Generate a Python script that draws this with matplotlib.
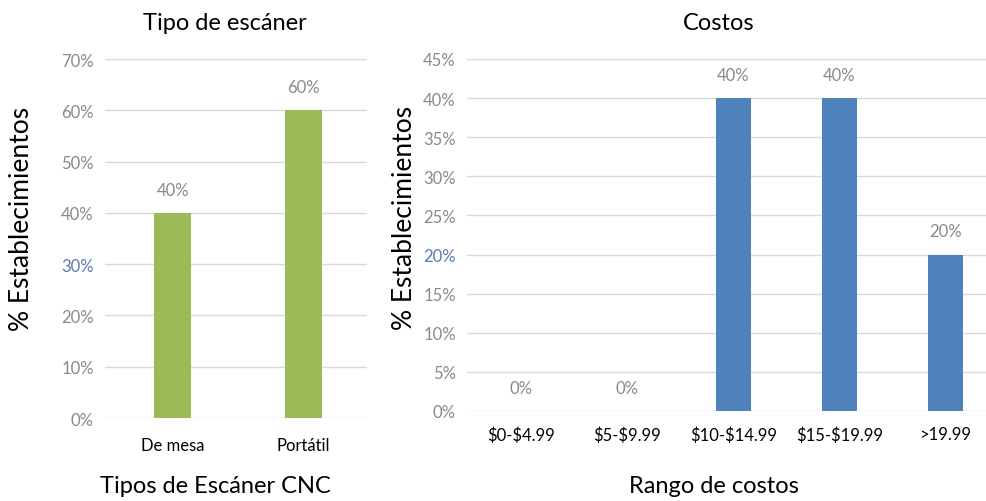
import matplotlib
matplotlib.use("Agg")
import matplotlib.pyplot as plt
from matplotlib.ticker import PercentFormatter

plt.rcParams['font.family'] = ['Lato', 'DejaVu Sans']

# data
scanner_types = ["De mesa", "Portátil"]
scanner_pct = [40, 60]

cost_ranges = [r"\$0-\$4.99", r"\$5-\$9.99", r"\$10-\$14.99", r"\$15-\$19.99", ">19.99"]
cost_pct = [0, 0, 40, 40, 20]

GREEN = "#9BBB59"
BLUE = "#4F81BD"
GRAY = "#898989"
GRID = "#d9d9d9"
ODD_TICK = "#5a7bb0"

W, H = 986, 502


def style_axes(ax, ymax, step, odd_tick, xpad):
    ax.set_ylim(0, ymax)
    ax.set_yticks(range(0, ymax + 1, step))
    ax.yaxis.set_major_formatter(PercentFormatter(decimals=0))
    ax.grid(axis="y", color=GRID, linewidth=1)
    ax.set_axisbelow(True)
    for s in ax.spines.values():
        s.set_visible(False)
    ax.tick_params(axis="y", length=0, pad=8, labelsize=12, labelcolor=GRAY)
    ax.tick_params(axis="x", length=0, pad=xpad, labelsize=12)
    for lbl, v in zip(ax.get_yticklabels(), ax.get_yticks()):
        if v == odd_tick:
            lbl.set_color(ODD_TICK)


def label_bars(ax, bars, values):
    for b, v in zip(bars, values):
        ax.annotate(f"{v}%", (b.get_x() + b.get_width() / 2, v),
                    xytext=(0, 11), textcoords="offset points",
                    ha="center", va="bottom", fontsize=12, color=GRAY)


def ftext(x, y, s, **kw):
    # place text by pixel position measured on the reference
    fig.text(x / W, 1 - y / H, s, ha="center", va="center", **kw)


fig = plt.figure(figsize=(W / 100, H / 100), dpi=100)

# left chart
ax1 = fig.add_axes([105 / W, 1 - 419 / H, 262 / W, 359 / H])
bars1 = ax1.bar(range(len(scanner_types)), scanner_pct, width=0.285, color=GREEN)
ax1.set_xticks(range(len(scanner_types)))
ax1.set_xticklabels(scanner_types)
ax1.set_xlim(-0.52, 1.49)
style_axes(ax1, 70, 10, 30, xpad=14)
label_bars(ax1, bars1, scanner_pct)

# right chart
ax2 = fig.add_axes([467 / W, 1 - 412 / H, 519 / W, 352 / H])
bars2 = ax2.bar(range(len(cost_ranges)), cost_pct, width=0.33, color=BLUE)
ax2.set_xticks(range(len(cost_ranges)))
ax2.set_xticklabels(cost_ranges)
ax2.set_xlim(-0.514, 4.382)
style_axes(ax2, 45, 5, 20, xpad=11)
label_bars(ax2, bars2, cost_pct)

# titles and axis labels
ftext(225, 24, "Tipo de escáner", fontsize=17)
ftext(719, 24, "Costos", fontsize=17)
ftext(22, 219, "% Establecimientos", fontsize=19, rotation=90)
ftext(405, 218, "% Establecimientos", fontsize=19, rotation=90)
ftext(215, 487, "Tipos de Escáner CNC", fontsize=17)
ftext(714, 487, "Rango de costos", fontsize=17)

fig.savefig("out.png", dpi=100)
